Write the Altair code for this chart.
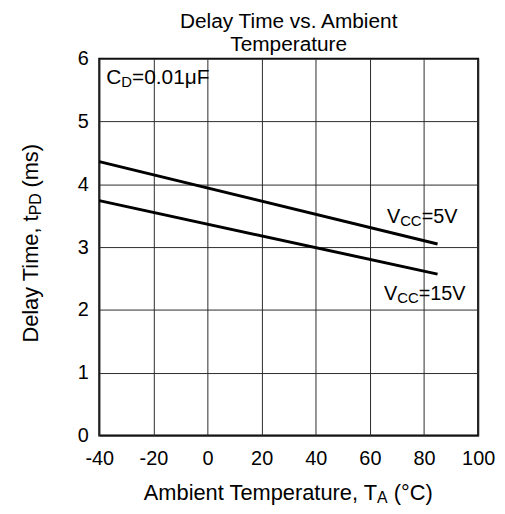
import altair as alt
import pandas as pd

# ---- data ----
temps = [-40, 85]
vcc5 = [4.36, 3.05]
vcc15 = [3.74, 2.57]
x_ticks = [-40, -20, 0, 20, 40, 60, 80, 100]
y_ticks = [0, 1, 2, 3, 4, 5, 6]

# curve labels (anchor at start of text baseline, in data units)
vlabel_temp = [66.3, 65.2]
vlabel_delay = [3.38, 2.16]
vlabel_suffix = ["=5V", "=15V"]

cd_temp = [-37.4]
cd_delay = [5.59]

FONT = "Liberation Sans"

lines_df = pd.DataFrame({
    "temp": temps + temps,
    "delay": vcc5 + vcc15,
    "series": ["5V"] * len(temps) + ["15V"] * len(temps),
})
vlab_df = pd.DataFrame({"temp": vlabel_temp, "delay": vlabel_delay, "suffix": vlabel_suffix})
cd_df = pd.DataFrame({"temp": cd_temp, "delay": cd_delay})
one = pd.DataFrame({"k": [0]})

xscale = alt.Scale(domain=[-40, 100], nice=False, zero=False)
yscale = alt.Scale(domain=[0, 6], nice=False, zero=False)

xaxis = alt.Axis(values=x_ticks, grid=True, ticks=False, domain=False, title=None,
                 labelFontSize=20, labelPadding=13, labelColor="black", labelFont=FONT,
                 labelExpr="toString(datum.value)",
                 gridColor="#2a2a2a", gridWidth=1, labelFlush=False, labelOverlap=False)
yaxis = alt.Axis(values=y_ticks, grid=True, ticks=False, domain=False, title=None,
                 labelFontSize=20, labelPadding=11, labelColor="black", labelFont=FONT,
                 gridColor="#2a2a2a", gridWidth=1, labelFlush=False, labelOverlap=False)

X = alt.X("temp:Q", scale=xscale, axis=xaxis)
Y = alt.Y("delay:Q", scale=yscale, axis=yaxis)

lines = alt.Chart(lines_df).mark_line(color="black", strokeWidth=3, strokeCap="butt").encode(
    x=X, y=Y, detail="series:N")

def txt(df, text, size, dx=0, dy=0, align="left", **kw):
    return alt.Chart(df).mark_text(text=text, font=FONT, fontSize=size, color="black",
                                   align=align, baseline="alphabetic", dx=dx, dy=dy, **kw)

# V_CC labels
v_main = txt(vlab_df, "V", 20).encode(x=X, y=Y)
v_sub = txt(vlab_df, "CC", 15, dx=13.3, dy=3).encode(x=X, y=Y)
v_suf = alt.Chart(vlab_df).mark_text(font=FONT, fontSize=20, color="black", align="left",
                                     baseline="alphabetic", dx=35).encode(x=X, y=Y, text="suffix:N")

# C_D label
cd_main = txt(cd_df, "C", 21).encode(x=X, y=Y)
cd_sub = txt(cd_df, "D", 15, dx=15.2, dy=3).encode(x=X, y=Y)
cd_suf = txt(cd_df, "=0.01\u03bcF", 21, dx=26).encode(x=X, y=Y)

# axis titles with subscripts
XT_X, XT_Y = 280, 445
xt1 = txt(one, "Ambient Temperature, T", 22, align="right").encode(x=alt.value(XT_X), y=alt.value(XT_Y))
xt2 = txt(one, "A", 16, dy=3).encode(x=alt.value(XT_X), y=alt.value(XT_Y))
xt3 = txt(one, "(\u00b0C)", 22, dx=17).encode(x=alt.value(XT_X), y=alt.value(XT_Y))

YT_X, YT_Y = -62, 158
yt1 = txt(one, "Delay Time, t", 22, align="right", angle=270).encode(x=alt.value(YT_X), y=alt.value(YT_Y))
yt2 = txt(one, "PD", 16, dy=3, angle=270).encode(x=alt.value(YT_X), y=alt.value(YT_Y))
yt3 = txt(one, "(ms)", 22, dx=28, angle=270).encode(x=alt.value(YT_X), y=alt.value(YT_Y))

chart = alt.layer(
    lines, v_main, v_sub, v_suf, cd_main, cd_sub, cd_suf, xt1, xt2, xt3, yt1, yt2, yt3
).properties(
    width=382, height=380,
    title=alt.TitleParams(text=["Delay Time vs. Ambient", "Temperature"], font=FONT, fontSize=21,
                          fontWeight="normal", color="black", lineHeight=23, offset=3, dy=9,
                          frame="group", anchor="middle"),
    padding={"left": 92, "top": 49, "right": 19, "bottom": 69},
    autosize=alt.AutoSizeParams(type="none"),
).configure_view(stroke="black", strokeWidth=2)

chart.save("out.html", embed_options={"renderer": "svg", "actions": False})
